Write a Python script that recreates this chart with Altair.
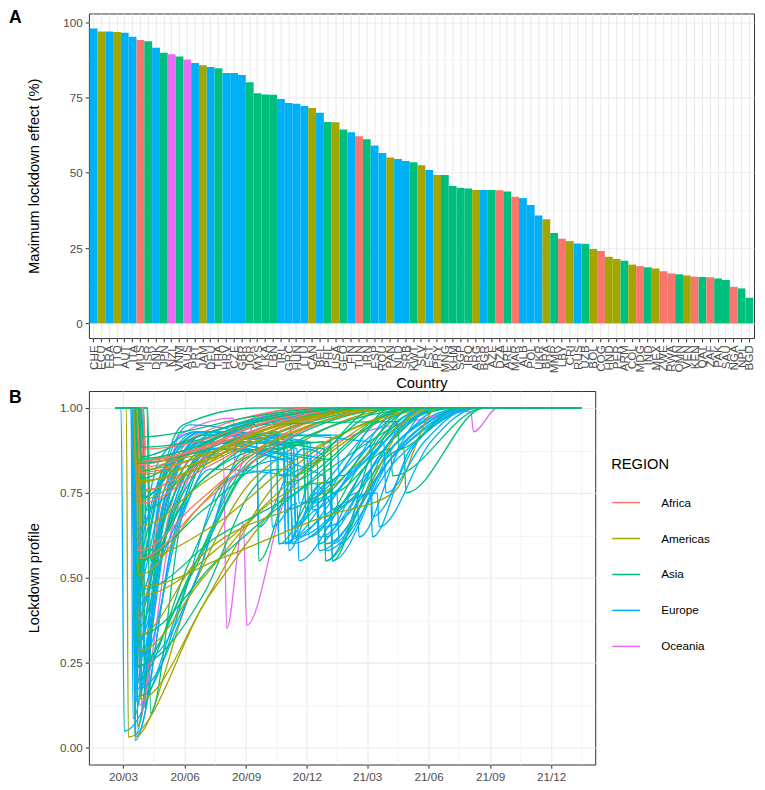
import altair as alt
import pandas as pd

# ---- Panel A: maximum lockdown effect by country (sorted) ----
countries = ["CHE", "ECU", "FRA", "TTO", "AUT", "ITA", "MUS", "ISR", "DNK", "JPN",
             "NZL", "VNM", "AUS", "PRT", "JAM", "DEU", "THA", "HRV", "CZE", "GBR",
             "JOR", "MYS", "LKA", "LBN", "IRL", "GRC", "HUN", "LTU", "CAN", "BEL",
             "PHL", "USA", "GEO", "FIN", "TUN", "IRN", "ESP", "ROU", "PAN", "NLD",
             "SRB", "KWT", "SLV", "EST", "PRY", "MNG", "KHM", "SGP", "IRQ", "ARG",
             "BGR", "AZE", "DZA", "ARE", "MAR", "ALB", "POL", "UKR", "BRA", "MMR",
             "LBY", "CRI", "RUS", "UZB", "BOL", "COG", "HND", "PER", "ARM", "COL",
             "MDG", "IND", "MEX", "ZWE", "RWA", "OMN", "VEN", "KEN", "QAT", "ZAF",
             "PAK", "SAU", "NGA", "NPL", "BGD"]

# F=Africa M=Americas S=Asia E=Europe O=Oceania
region_keys = ("EMEMEEFSES" "OSOEMESEEE" "SSSSEEEEME" "SMSEFSEEME" "ESMEMSSSSM"
               "ESFSFEEEMS" "FMESMFMMSM" "FSMFFSMFSF" "SSFSS")
region_names = {"F": "Africa", "M": "Americas", "S": "Asia", "E": "Europe", "O": "Oceania"}
region_order = ["Africa", "Americas", "Asia", "Europe", "Oceania"]
region_colors = ["#F8766D", "#A3A500", "#00BF7D", "#00B0F6", "#E76BF3"]

effect = [97.9, 96.9, 96.9, 96.8, 96.5, 95.2, 94.1, 93.7, 91.5, 89.9,
          89.4, 88.6, 87.6, 86.5, 85.7, 85.1, 84.7, 83.1, 83.1, 82.5,
          80.1, 76.4, 76.0, 75.9, 74.5, 73.2, 72.9, 72.2, 71.5, 69.9,
          66.9, 66.8, 64.4, 63.5, 62.1, 61.1, 59.1, 56.6, 55.1, 54.6,
          53.9, 53.5, 52.5, 50.9, 49.3, 49.3, 45.6, 45.0, 44.8, 44.3,
          44.3, 44.3, 44.2, 43.8, 42.0, 41.6, 39.3, 35.8, 34.6, 30.0,
          28.1, 27.3, 26.5, 26.4, 24.7, 24.0, 22.1, 21.4, 20.8, 19.5,
          19.0, 18.6, 18.2, 17.3, 16.6, 16.3, 15.9, 15.5, 15.4, 15.3,
          14.9, 14.4, 12.1, 11.6, 8.5]

# ---- Panel B: lockdown profile knots (days from 2020-03-01) ----
start_day = -12
last_day = 685
drop_day = [14, 5, 16, 14, 15, -3, 18, 18, 12, 36,
            24, 30, 20, 16, 22, 18, 24, 17, 14, 22,
            18, 17, 20, 15, 27, 22, 27, 16, 17, 17,
            16, 16, 20, 16, 20, 20, 14, 16, 24, 15,
            15, 22, 21, 16, 19, 16, 20, 37, 18, 18,
            16, 31, 22, 26, 19, 12, 14, 16, 24, 30,
            21, 19, 28, 24, 21, 30, 15, 15, 24, 24,
            22, 24, 23, 30, 21, 18, 16, 25, 18, 26,
            23, 23, 30, 24, 26]
low_day = [18, 8, 19, 18, 18, 2, 22, 22, 15, 41,
           28, 33, 25, 20, 26, 22, 28, 21, 18, 26,
           22, 21, 24, 19, 31, 26, 31, 20, 25, 21,
           24, 25, 24, 20, 24, 24, 17, 20, 28, 19,
           19, 28, 30, 20, 23, 20, 24, 41, 22, 22,
           20, 35, 26, 30, 23, 16, 18, 20, 28, 34,
           26, 23, 32, 28, 25, 34, 20, 20, 28, 28,
           26, 28, 27, 34, 25, 22, 20, 29, 22, 30,
           27, 27, 34, 28, 30]
mid1_day = [75, 120, 72, 100, 60, 90, 55, 60, 60, 90,
            55, 55, 70, 70, 130, 65, 110, 65, 55, 110,
            100, 110, 100, 120, 110, 70, 85, 60, 120, 70,
            140, 110, 75, 65, 60, 70, 80, 70, 150, 60,
            55, 140, 150, 60, 110, 60, 100, 90, 120, 140,
            60, 100, 120, 90, 110, 60, 55, 70, 120, 100,
            120, 110, 80, 90, 120, 120, 110, 110, 90, 130,
            120, 90, 120, 110, 100, 110, 130, 120, 100, 110,
            100, 90, 110, 100, 90]
mid1_val = [0.62, 0.42, 0.58, 0.45, 0.65, 0.45, 0.55, 0.70, 0.70, 0.70,
            0.60, 0.75, 0.62, 0.68, 0.45, 0.72, 0.55, 0.72, 0.75, 0.50,
            0.55, 0.55, 0.50, 0.45, 0.50, 0.68, 0.66, 0.72, 0.50, 0.66,
            0.55, 0.55, 0.70, 0.75, 0.75, 0.75, 0.66, 0.72, 0.60, 0.75,
            0.78, 0.62, 0.56, 0.80, 0.70, 0.80, 0.75, 0.75, 0.70, 0.66,
            0.82, 0.75, 0.72, 0.80, 0.72, 0.82, 0.85, 0.82, 0.78, 0.82,
            0.82, 0.82, 0.85, 0.85, 0.84, 0.84, 0.84, 0.82, 0.86, 0.85,
            0.86, 0.86, 0.86, 0.87, 0.87, 0.87, 0.87, 0.88, 0.88, 0.88,
            0.88, 0.90, 0.90, 0.90, 0.93]
mid2_day = [135, 240, 125, 200, 110, 150, 100, 110, 120, 150,
            85, 90, 130, 130, 260, 120, 200, 120, 100, 170,
            180, 200, 200, 190, 170, 140, 150, 120, 220, 130,
            280, 300, 150, 120, 110, 140, 130, 140, 260, 120,
            110, 250, 300, 120, 200, 150, 200, 160, 220, 260,
            120, 200, 220, 160, 220, 130, 110, 150, 220, 200,
            220, 220, 150, 170, 220, 220, 220, 200, 180, 230,
            220, 200, 220, 200, 200, 220, 230, 220, 200, 200,
            200, 180, 200, 200, 180]
mid2_val = [0.88, 0.80, 0.86, 0.80, 0.90, 0.78, 0.85, 0.90, 0.92, 0.90,
            0.92, 0.95, 0.86, 0.88, 0.78, 0.90, 0.86, 0.92, 0.95, 0.80,
            0.85, 0.85, 0.85, 0.75, 0.85, 0.90, 0.88, 0.92, 0.72, 0.88,
            0.78, 0.75, 0.90, 0.92, 0.92, 0.90, 0.82, 0.88, 0.80, 0.90,
            0.93, 0.74, 0.68, 0.93, 0.87, 0.93, 0.90, 0.90, 0.86, 0.85,
            0.93, 0.88, 0.88, 0.92, 0.90, 0.93, 0.93, 0.92, 0.90, 0.92,
            0.92, 0.92, 0.94, 0.94, 0.93, 0.93, 0.94, 0.93, 0.95, 0.94,
            0.95, 0.95, 0.94, 0.95, 0.95, 0.95, 0.95, 0.95, 0.96, 0.95,
            0.96, 0.96, 0.96, 0.96, 0.97]
end_day = [510, 470, 450, 430, 460, 520, 270, 460, 470, 540,
           300, 200, 560, 470, 470, 530, 400, 440, 520, 520,
           420, 540, 420, 480, 530, 530, 460, 480, 450, 450,
           500, 470, 430, 470, 290, 420, 520, 420, 440, 530,
           420, 430, 470, 510, 420, 380, 420, 420, 460, 480,
           450, 440, 400, 380, 380, 380, 520, 390, 420, 400,
           360, 380, 350, 360, 380, 360, 380, 400, 360, 400,
           360, 500, 420, 340, 340, 380, 400, 340, 360, 330,
           360, 350, 330, 340, 320]

# later waves: (day, value) knots
waves = {
    "CHE": [(255, 0.90), (258, 0.65), (310, 0.78), (313, 0.60), (400, 0.88)],
    "FRA": [(240, 0.88), (243, 0.60), (300, 0.78), (303, 0.62), (380, 0.85)],
    "AUT": [(245, 0.90), (248, 0.58), (290, 0.75), (293, 0.60), (360, 0.82)],
    "ITA": [(250, 0.85), (253, 0.62), (320, 0.75), (323, 0.60), (410, 0.90)],
    "ISR": [(200, 0.90), (203, 0.55), (250, 0.78), (310, 0.85), (313, 0.55), (380, 0.90)],
    "DNK": [(290, 0.88), (293, 0.62), (400, 0.90)],
    "JPN": [(310, 0.92), (313, 0.75), (400, 0.88), (403, 0.80)],
    "NZL": [(165, 0.97), (168, 0.80), (200, 0.97)],
    "AUS": [(150, 0.86), (155, 0.35), (180, 0.66), (185, 0.36), (240, 0.72),
            (300, 0.88), (430, 0.96), (520, 0.99), (524, 0.93)],
    "PRT": [(300, 0.80), (303, 0.55), (380, 0.85)],
    "DEU": [(255, 0.85), (258, 0.65), (290, 0.70), (293, 0.58), (410, 0.87)],
    "THA": [(300, 0.90), (303, 0.78)],
    "HRV": [(270, 0.90), (273, 0.70), (360, 0.90)],
    "CZE": [(220, 0.90), (223, 0.65), (260, 0.72), (263, 0.55), (350, 0.75), (353, 0.62), (420, 0.90)],
    "GBR": [(245, 0.82), (248, 0.60), (280, 0.78), (310, 0.72), (313, 0.55), (400, 0.85)],
    "JOR": [(275, 0.90), (278, 0.62), (360, 0.85)],
    "MYS": [(310, 0.90), (313, 0.70), (420, 0.88), (423, 0.75)],
    "LBN": [(230, 0.82), (233, 0.60), (300, 0.78), (303, 0.55), (400, 0.90)],
    "IRL": [(200, 0.90), (203, 0.65), (270, 0.88), (300, 0.86), (303, 0.58), (410, 0.85)],
    "GRC": [(250, 0.85), (253, 0.60), (370, 0.75), (373, 0.62), (430, 0.88)],
    "HUN": [(300, 0.85), (303, 0.65), (400, 0.85)],
    "LTU": [(255, 0.88), (258, 0.62), (400, 0.88)],
    "CAN": [(300, 0.78), (303, 0.60)],
    "BEL": [(240, 0.85), (243, 0.60), (360, 0.85)],
    "GEO": [(300, 0.88), (303, 0.68), (370, 0.85)],
    "FIN": [(320, 0.92), (323, 0.80), (420, 0.95)],
    "IRN": [(240, 0.92), (243, 0.78)],
    "ESP": [(250, 0.80), (253, 0.65), (300, 0.75), (303, 0.60), (400, 0.85)],
    "ROU": [(280, 0.85), (283, 0.70)],
    "NLD": [(230, 0.85), (233, 0.60), (330, 0.72), (380, 0.75), (383, 0.65), (460, 0.90)],
    "SRB": [(240, 0.88), (243, 0.70)],
    "SLV": [(404, 0.75)],
    "EST": [(370, 0.90), (373, 0.68), (440, 0.90)],
    "MNG": [(250, 0.96), (253, 0.80)],
    "BGR": [(280, 0.90), (283, 0.72), (380, 0.88)],
    "AZE": [(270, 0.90), (273, 0.72)],
    "POL": [(260, 0.88), (263, 0.72), (390, 0.90), (393, 0.75), (450, 0.90)],
    "MMR": [(230, 0.93), (233, 0.80)],
    "IND": [(410, 0.96), (413, 0.88)],
}

regions = [region_names[k] for k in region_keys]
bars = pd.DataFrame({"country": countries, "region": regions, "effect": effect})

base = pd.Timestamp("2020-03-01")


def to_date(d):
    return (base + pd.Timedelta(days=d)).strftime("%Y-%m-%dT00:00:00")


rows = []
for i, c in enumerate(countries):
    low = round(1 - effect[i] / 100, 3)
    knots = [(start_day, 1.0), (drop_day[i], 1.0), (low_day[i], low),
             (mid1_day[i], mid1_val[i]), (mid2_day[i], mid2_val[i])]
    knots += waves.get(c, [])
    knots += [(end_day[i], 1.0), (last_day, 1.0)]
    for d, v in knots:
        rows.append({"country": c, "region": regions[i], "date": to_date(d), "value": v})
lines = pd.DataFrame(rows)

axis_style = dict(gridColor="#EBEBEB", tickColor="#333333", tickSize=3.7, domain=False,
                  labelColor="#4D4D4D", labelFontSize=11.7, titleFontSize=14.7,
                  titleFontWeight="normal", titleColor="black", labelPadding=3)

color_scale = alt.Scale(domain=region_order, range=region_colors)

# ---- Panel A ----
major_a = "datum.value % 25 === 0"
bar_chart = alt.Chart(bars).mark_bar().encode(
    x=alt.X("country:N", sort=countries,
            scale=alt.Scale(paddingInner=0, paddingOuter=0.1),
            axis=alt.Axis(title="Country", labelAngle=270, grid=True, gridWidth=1.1,
                          titlePadding=3, **axis_style)),
    y=alt.Y("effect:Q", scale=alt.Scale(domain=[-4.9, 102.9], nice=False),
            axis=alt.Axis(title="Maximum lockdown effect (%)",
                          values=[0, 12.5, 25, 37.5, 50, 62.5, 75, 87.5, 100],
                          labelExpr=f"{major_a} ? datum.label : ''",
                          gridWidth={"condition": {"test": major_a, "value": 1.1}, "value": 0.55},
                          tickOpacity={"condition": {"test": major_a, "value": 1}, "value": 0},
                          titlePadding=21, **axis_style)),
    y2=alt.datum(0),
    color=alt.Color("region:N", scale=color_scale, legend=None),
)
tag_a = alt.Chart(pd.DataFrame({"tag": ["A"]})).mark_text(
    align="left", baseline="middle", fontSize=17.6, fontWeight="bold", color="black"
).encode(x=alt.value(-80), y=alt.value(4.8), text="tag:N")
panel_a = alt.layer(bar_chart, tag_a).properties(width=666, height=325)

# ---- Panel B ----
major_y = "abs(datum.value * 4 - round(datum.value * 4)) < 0.001"
major_x = "month(datum.value) % 3 === 2"
x_ticks = [alt.DateTime(year=2020, month=1, date=15), alt.DateTime(year=2020, month=3, date=1),
           alt.DateTime(year=2020, month=4, date=16), alt.DateTime(year=2020, month=6, date=1),
           alt.DateTime(year=2020, month=7, date=16), alt.DateTime(year=2020, month=9, date=1),
           alt.DateTime(year=2020, month=10, date=16), alt.DateTime(year=2020, month=12, date=1),
           alt.DateTime(year=2021, month=1, date=15), alt.DateTime(year=2021, month=3, date=1),
           alt.DateTime(year=2021, month=4, date=16), alt.DateTime(year=2021, month=6, date=1),
           alt.DateTime(year=2021, month=7, date=16), alt.DateTime(year=2021, month=9, date=1),
           alt.DateTime(year=2021, month=10, date=16), alt.DateTime(year=2021, month=12, date=1),
           alt.DateTime(year=2022, month=1, date=15)]

line_chart = alt.Chart(lines).mark_line(interpolate="monotone", strokeWidth=1.3).encode(
    x=alt.X("date:T",
            scale=alt.Scale(domain=[alt.DateTime(year=2020, month=1, date=10),
                                    alt.DateTime(year=2022, month=2, date=5)]),
            axis=alt.Axis(title=None, values=x_ticks,
                          labelExpr=f"{major_x} ? timeFormat(datum.value, '%y/%m') : ''",
                          gridWidth={"condition": {"test": major_x, "value": 1.1}, "value": 0.55},
                          tickOpacity={"condition": {"test": major_x, "value": 1}, "value": 0},
                          labelOverlap=False, **axis_style)),
    y=alt.Y("value:Q", scale=alt.Scale(domain=[-0.05, 1.05], nice=False),
            axis=alt.Axis(title="Lockdown profile",
                          values=[0, 0.125, 0.25, 0.375, 0.5, 0.625, 0.75, 0.875, 1.0],
                          labelExpr=f"{major_y} ? format(datum.value, '.2f') : ''",
                          gridWidth={"condition": {"test": major_y, "value": 1.1}, "value": 0.55},
                          tickOpacity={"condition": {"test": major_y, "value": 1}, "value": 0},
                          titlePadding=18, **axis_style)),
    color=alt.Color("region:N", scale=color_scale,
                    legend=alt.Legend(title="REGION", orient="none", legendX=523, legendY=66,
                                      symbolType="stroke", symbolSize=784, symbolStrokeWidth=1.5,
                                      labelFontSize=11.7, labelColor="black", labelOffset=20,
                                      titleFontSize=14.7, titleFontWeight="normal",
                                      titleColor="black", titlePadding=16, rowPadding=14)),
    detail="country:N",
)
tag_b = alt.Chart(pd.DataFrame({"tag": ["B"]})).mark_text(
    align="left", baseline="middle", fontSize=17.6, fontWeight="bold", color="black"
).encode(x=alt.value(-80), y=alt.value(7), text="tag:N")
panel_b = alt.layer(line_chart, tag_b).properties(width=507, height=374)

chart = (
    alt.vconcat(panel_a, panel_b, spacing=-10)
    .resolve_scale(color="independent")
    .resolve_legend(color="independent")
    .properties(padding=0)
    .configure(font="Liberation Sans")
    .configure_view(stroke="#333333", strokeWidth=1)
)

chart.save("out.html", embed_options={"renderer": "svg", "actions": False})
